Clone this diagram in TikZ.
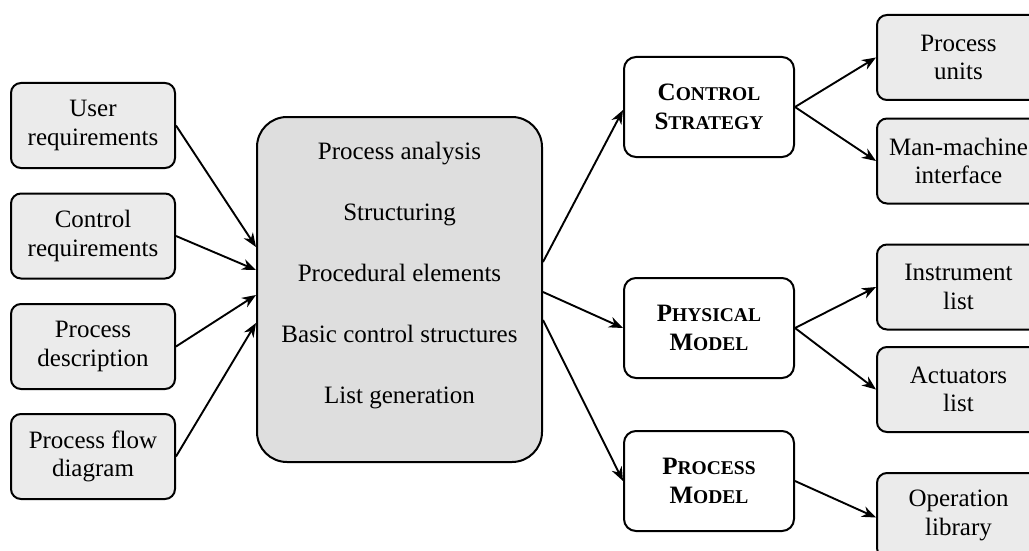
\documentclass[tikz,border=0pt]{standalone}
\usepackage{fontspec}
\setmainfont{Liberation Serif}
\usetikzlibrary{arrows.meta,calc}
\newcommand{\smc}[1]{{\fontsize{19.5}{29}\selectfont #1}}
\begin{document}
\begin{tikzpicture}[x=1pt,y=-1pt,
  every node/.style={font=\fontsize{25}{28.5}\selectfont},
  inbox/.style={draw, line width=2pt, rounded corners=10pt, fill=boxgray, minimum width=164pt, minimum height=85pt, align=center, inner sep=0pt},
  outbox/.style={draw, line width=2pt, rounded corners=10pt, fill=boxgray, minimum width=163pt, minimum height=85pt, align=center, inner sep=0pt},
  midbox/.style={draw, line width=2pt, rounded corners=12pt, fill=white, minimum width=170pt, minimum height=100pt, align=center, inner sep=0pt, font=\fontsize{25}{29}\selectfont\bfseries},
  mainbox/.style={draw, line width=2pt, rounded corners=30pt, fill=maingray, minimum width=285pt, minimum height=345pt, inner sep=0pt},
  conn/.style={line width=1.9pt, -{Stealth[length=14pt,width=11pt,inset=4.5pt]}}
]
\definecolor{boxgray}{HTML}{EBEBEB}
\definecolor{maingray}{HTML}{DEDEDE}
\useasboundingbox (0,0) rectangle (1029,551);

% left inputs
\node[inbox] (ur) at (93,125.5) {User\\requirements};
\node[inbox] (cr) at (93,236) {Control\\requirements};
\node[inbox] (pd) at (93,346.5) {Process\\description};
\node[inbox] (pf) at (93,456.5) {Process flow\\diagram};

% main box
\node[mainbox] (main) at (399.5,289.5) {};
\node[align=center, font=\fontsize{25}{61}\selectfont, inner sep=0pt] (maintext) at (399.5,276) {Process analysis\\Structuring\\Procedural elements\\Basic control structures\\List generation};

% middle boxes
\node[midbox] (cs) at (709,107) {C\smc{ONTROL}\\S\smc{TRATEGY}};
\node[midbox] (pm) at (709,328) {P\smc{HYSICAL}\\M\smc{ODEL}};
\node[midbox] (prm) at (709,481) {P\smc{ROCESS}\\M\smc{ODEL}};

% right outputs
\node[outbox] (pu) at (958.5,57.5) {Process\\units};
\node[outbox] (mm) at (958.5,161) {Man-machine\\interface};
\node[outbox] (il) at (958.5,287) {Instrument\\list};
\node[outbox] (al) at (958.5,389.5) {Actuators\\list};
\node[outbox] (ol) at (958.5,515.5) {Operation\\library};

% connectors left
\draw[conn] (ur.east) -- ($(main.west)+(0,-42.5)$);
\draw[conn] (cr.east) -- ($(main.west)+(0,-19.5)$);
\draw[conn] (pd.east) -- ($(main.west)+(0,5.5)$);
\draw[conn] (pf.east) -- ($(main.west)+(0,33.5)$);

% connectors main -> middle
\draw[conn] ($(main.east)+(0,-27.5)$) -- ($(cs.west)+(0,3)$);
\draw[conn] ($(main.east)+(0,2.5)$) -- (pm.west);
\draw[conn] ($(main.east)+(0,30.5)$) -- (prm.west);

% connectors middle -> right
\draw[conn] (cs.east) -- (pu.west);
\draw[conn] (cs.east) -- (mm.west);
\draw[conn] (pm.east) -- (il.west);
\draw[conn] (pm.east) -- (al.west);
\draw[conn] (prm.east) -- ($(ol.west)+(0,2)$);
\end{tikzpicture}
\end{document}
